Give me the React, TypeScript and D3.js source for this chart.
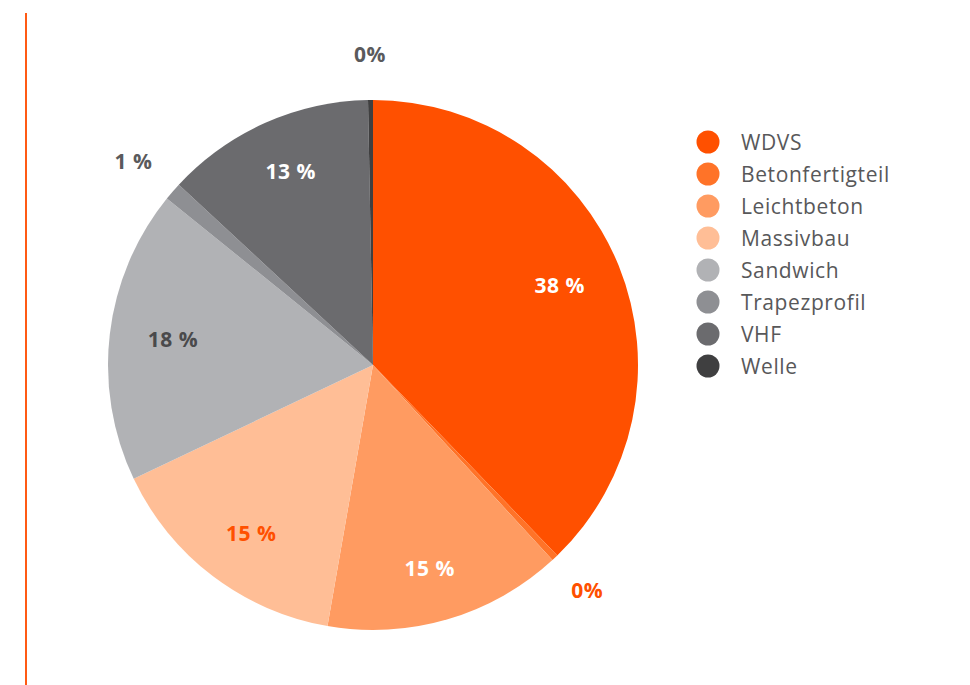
import React, { useEffect, useRef } from "react";
import * as d3 from "d3";

const categories = ["WDVS", "Betonfertigteil", "Leichtbeton", "Massivbau", "Sandwich", "Trapezprofil", "VHF", "Welle"];
const values = [37.8, 0.4, 14.6, 15.2, 17.9, 1.1, 12.8, 0.3];
const labels = ["38 %", "0%", "15 %", "15 %", "18 %", "1 %", "13 %", "0%"];
const colors = ["#ff5000", "#ff7328", "#ff9b61", "#ffbe96", "#b1b2b5", "#8e8f93", "#6b6b6e", "#3f3f40"];
const labelColors = ["#ffffff", "#ff5000", "#ffffff", "#ff5000", "#4a4a4c", "#5a5a5c", "#ffffff", "#5a5a5c"];
const outside = [false, true, false, false, false, true, false, true];

const App = () => {
  const ref = useRef<SVGSVGElement>(null);

  useEffect(() => {
    const svg = d3.select(ref.current);
    svg.selectAll("*").remove();

    const cx = 365, cy = 357, r = 265;

    svg.append("line")
      .attr("x1", 18).attr("x2", 18)
      .attr("y1", 5).attr("y2", 677)
      .attr("stroke", "#ff5a14").attr("stroke-width", 2);

    const data = categories.map((c, i) => ({ name: c, value: values[i], i }));
    const pie = d3.pie<any>().value((d) => d.value).sort(null);
    const arcs = pie(data);
    const arc = d3.arc<any>().innerRadius(0).outerRadius(r);

    // label anchor: inside on a slightly tall ellipse, outside pushed out by half the text box
    const labelPos = (d: any) => {
      const a = (d.startAngle + d.endAngle) / 2;
      const s = Math.sin(a), c = -Math.cos(a);
      if (outside[d.data.i]) {
        const w = labels[d.data.i].length * 10, h = 16;
        const rr = r * 1.14;
        return [rr * s + s * w / 2, rr * c + c * h / 2];
      }
      return [r * 0.76 * s, r * 0.8 * c];
    };

    const g = svg.append("g").attr("transform", `translate(${cx},${cy})`);
    g.selectAll("path")
      .data(arcs)
      .enter()
      .append("path")
      .attr("d", arc)
      .attr("fill", (d) => colors[d.data.i]);

    g.selectAll("text")
      .data(arcs)
      .enter()
      .append("text")
      .attr("transform", (d) => {
        const [x, y] = labelPos(d);
        return `translate(${x},${y})`;
      })
      .attr("text-anchor", "middle")
      .attr("dy", "0.35em")
      .attr("font-family", "'Open Sans', sans-serif")
      .attr("font-weight", 700)
      .attr("font-size", 21)
      .attr("letter-spacing", 0.5)
      .attr("fill", (d) => labelColors[d.data.i])
      .text((d) => labels[d.data.i]);

    const legend = svg.append("g").attr("transform", "translate(700,134)");
    const rows = legend.selectAll("g")
      .data(categories)
      .enter()
      .append("g")
      .attr("transform", (d, i) => `translate(0,${i * 32})`);
    rows.append("circle").attr("r", 11.5).attr("fill", (d, i) => colors[i]);
    rows.append("text")
      .attr("x", 33)
      .attr("dy", "0.36em")
      .attr("font-family", "'Open Sans', sans-serif")
      .attr("font-size", 21)
      .attr("letter-spacing", 0.6)
      .attr("fill", "#58585a")
      .text((d) => d);
  }, []);

  return <svg ref={ref} width={954} height={677} style={{ display: "block" }}></svg>;
};

export default App;
